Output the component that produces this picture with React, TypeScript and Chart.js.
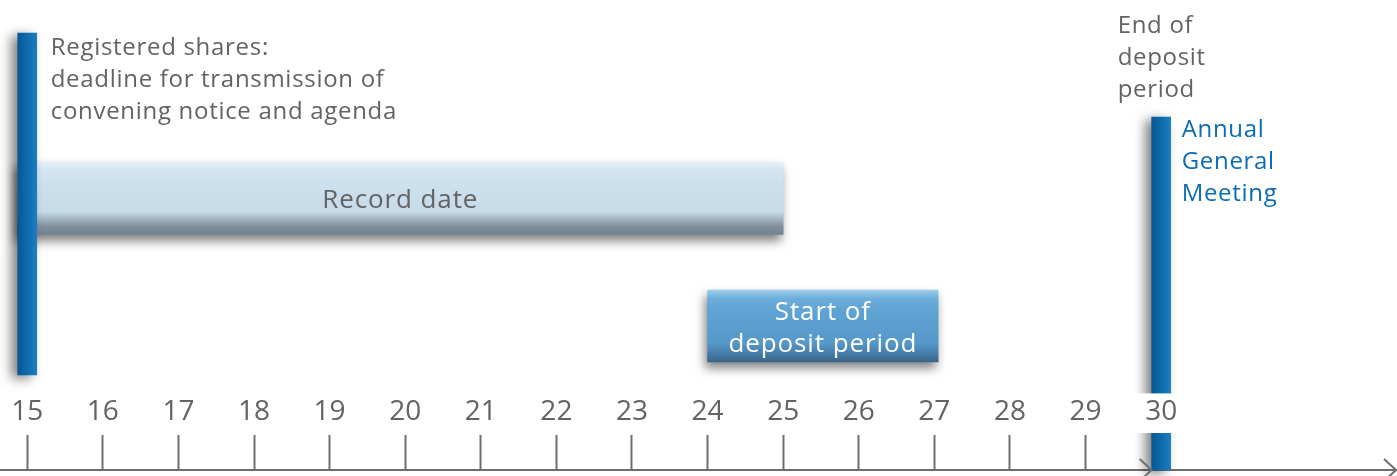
import React, { useEffect, useRef } from 'react';
import { Chart, registerables } from 'chart.js';

Chart.register(...registerables);

// ---- data ----
const DAY_TICKS = [15, 16, 17, 18, 19, 20, 21, 22, 23, 24, 25, 26, 27, 28, 29, 30];
const DAY_MIN = 14.64;
const DAY_MAX = 33.12;

// vertical milestone markers: day and vertical extent (lane units, 0 = time axis)
const MILESTONE_DAYS = [15, 30];
const MILESTONE_SPANS: [number, number][] = [
  [9.5, 43.7],
  [0, 35.3],
];

// horizontal periods: [start day, end day] and lane
const PERIOD_SPANS: [number, number][] = [
  [14.87, 25],
  [24, 27.05],
];
const PERIOD_LANES = [27.15, 14.4];
const PERIOD_LABELS = [['Record date'], ['Start of', 'deposit period']];

const NOTICE_TEXT = ['Registered shares:', 'deadline for transmission of', 'convening notice and agenda'];
const END_DEPOSIT_TEXT = ['End of', 'deposit', 'period'];
const AGM_TEXT = ['Annual', 'General', 'Meeting'];

const LANE_MIN = 0;
const LANE_MAX = 47;

// ---- styles ----
const FONT = '"Open Sans", "Noto Sans", sans-serif';
const GREY = '#636363';
const AXIS_GREY = '#6e6e6e';
const AGM_BLUE = '#0b6cb4';
const MARKER_W = 19;
const PERIOD_H = 72;

function markerFill(c: any) {
  const chart = c.chart;
  if (!chart.chartArea || c.type !== 'data' || !c.parsed) return '#0e69aa';
  const sx = chart.scales.x2;
  const cx = sx.getPixelForValue(c.parsed.x);
  const g = chart.ctx.createLinearGradient(cx - MARKER_W / 2, 0, cx + MARKER_W / 2, 0);
  g.addColorStop(0, '#0a5792');
  g.addColorStop(0.4, '#0d67a9');
  g.addColorStop(1, '#1b7ec1');
  return g;
}

function periodFill(c: any) {
  const chart = c.chart;
  if (!chart.chartArea || c.type !== 'data' || !c.parsed) return '#cde1ef';
  const sy = chart.scales.y;
  const cy = sy.getPixelForValue(c.parsed.y);
  const g = chart.ctx.createLinearGradient(0, cy - PERIOD_H / 2, 0, cy + PERIOD_H / 2);
  if (c.dataIndex === 0) {
    g.addColorStop(0, '#e6f0f8');
    g.addColorStop(0.1, '#d4e6f2');
    g.addColorStop(0.25, '#cde1ef');
    g.addColorStop(0.68, '#c7dae8');
    g.addColorStop(0.78, '#a5b7c5');
    g.addColorStop(0.88, '#82919d');
    g.addColorStop(1, '#728290');
  } else {
    g.addColorStop(0, '#a0cde9');
    g.addColorStop(0.12, '#6caedb');
    g.addColorStop(0.3, '#5ea3d3');
    g.addColorStop(0.74, '#5698c9');
    g.addColorStop(0.86, '#4880ae');
    g.addColorStop(1, '#386588');
  }
  return g;
}

function bounds(el: any) {
  if (el.horizontal) {
    return {
      left: Math.min(el.x, el.base),
      right: Math.max(el.x, el.base),
      top: el.y - el.height / 2,
      bottom: el.y + el.height / 2,
    };
  }
  return {
    left: el.x - el.width / 2,
    right: el.x + el.width / 2,
    top: Math.min(el.y, el.base),
    bottom: Math.max(el.y, el.base),
  };
}

const shadowPlugin = {
  id: 'barShadows',
  beforeDatasetDraw(chart: any, args: any) {
    const ctx = chart.ctx;
    ctx.save();
    if (args.index === 0) {
      ctx.shadowColor = 'rgba(0,0,0,0.5)';
      ctx.shadowBlur = 12;
      ctx.shadowOffsetX = -6;
      ctx.shadowOffsetY = 3;
    } else {
      ctx.shadowColor = 'rgba(0,0,0,0.5)';
      ctx.shadowBlur = 10;
      ctx.shadowOffsetX = -2;
      ctx.shadowOffsetY = 6;
    }
  },
  afterDatasetDraw(chart: any) {
    chart.ctx.restore();
  },
};

function lines(ctx: CanvasRenderingContext2D, text: string[], x: number, y0: number, step: number) {
  text.forEach((t, i) => ctx.fillText(t, x, y0 + i * step));
}

const textPlugin = {
  id: 'timelineText',
  afterDatasetsDraw(chart: any) {
    const ctx: any = chart.ctx;
    const marks = chart.getDatasetMeta(0).data.map(bounds);
    const periods = chart.getDatasetMeta(1).data.map(bounds);
    const axisY = chart.scales.x.top;
    ctx.save();
    ctx.textBaseline = 'alphabetic';

    // side annotations
    ctx.font = `24px ${FONT}`;
    ctx.letterSpacing = '0.7px';
    ctx.fillStyle = GREY;
    ctx.textAlign = 'left';
    lines(ctx, NOTICE_TEXT, marks[0].right + 14, marks[0].top + 22, 32);
    lines(ctx, END_DEPOSIT_TEXT, marks[1].left - 34, marks[1].top - 84, 32);
    ctx.fillStyle = AGM_BLUE;
    lines(ctx, AGM_TEXT, marks[1].right + 11, marks[1].top + 20, 32);

    // period labels
    ctx.textAlign = 'center';
    ctx.font = `26px ${FONT}`;
    ctx.letterSpacing = '0.9px';
    periods.forEach((b: any, i: number) => {
      const lbl = PERIOD_LABELS[i];
      const cx = (b.left + b.right) / 2;
      const cy = (b.top + b.bottom) / 2;
      ctx.fillStyle = i === 0 ? GREY : '#ffffff';
      const y0 = cy + 9.5 - ((lbl.length - 1) * 32) / 2;
      lines(ctx, lbl, cx, y0, 32);
    });
    ctx.letterSpacing = '0px';

    // arrow heads on the time axis
    ctx.strokeStyle = AXIS_GREY;
    ctx.lineWidth = 2;
    const arrow = (tipX: number) => {
      ctx.beginPath();
      ctx.moveTo(tipX - 12, axisY - 11);
      ctx.lineTo(tipX, axisY);
      ctx.lineTo(tipX - 12, axisY + 11);
      ctx.stroke();
    };
    arrow(marks[1].left);
    arrow(chart.chartArea.right - 1);
    ctx.restore();
  },
};

export default function App() {
  const ref = useRef<HTMLCanvasElement | null>(null);

  useEffect(() => {
    document.body.style.margin = '0';
    const canvas = ref.current;
    if (!canvas) return;
    Chart.defaults.font.family = FONT;

    const chart = new Chart(canvas, {
      type: 'bar',
      data: {
        datasets: [
          {
            label: 'Milestones',
            indexAxis: 'x',
            xAxisID: 'x2',
            yAxisID: 'y2',
            grouped: false,
            data: MILESTONE_DAYS.map((d, i) => ({ x: d, y: MILESTONE_SPANS[i] })),
            barThickness: MARKER_W,
            backgroundColor: markerFill,
            borderWidth: 0,
            clip: false,
          } as any,
          {
            label: 'Periods',
            indexAxis: 'y',
            xAxisID: 'x',
            yAxisID: 'y',
            grouped: false,
            data: PERIOD_LANES.map((l, i) => ({ x: PERIOD_SPANS[i], y: l })),
            barThickness: PERIOD_H,
            backgroundColor: periodFill,
            borderWidth: 0,
            clip: false,
          } as any,
        ],
      },
      options: {
        animation: false,
        responsive: false,
        devicePixelRatio: 1,
        events: [],
        layout: { padding: 0 },
        plugins: { legend: { display: false }, tooltip: { enabled: false } },
        scales: {
          x: {
            type: 'linear',
            axis: 'x',
            position: 'bottom',
            min: DAY_MIN,
            max: DAY_MAX,
            offset: false,
            stacked: false,
            afterBuildTicks: (s: any) => {
              s.ticks = DAY_TICKS.map((v) => ({ value: v }));
            },
            afterFit: (s: any) => {
              s.height = 6;
              s.paddingLeft = 0;
              s.paddingRight = 0;
            },
            grid: {
              display: true,
              offset: false,
              drawOnChartArea: false,
              drawTicks: true,
              tickLength: -35,
              tickWidth: 2,
              tickColor: AXIS_GREY,
            },
            border: { display: true, color: AXIS_GREY, width: 2 },
            ticks: {
              z: 1,
              mirror: true,
              padding: 41,
              autoSkip: false,
              maxRotation: 0,
              minRotation: 0,
              color: GREY,
              font: { size: 28, family: FONT },
              callback: (v: any) => String(v),
              showLabelBackdrop: (c: any) => c.tick && c.tick.value === 30,
              backdropColor: '#ffffff',
              backdropPadding: { top: 2, bottom: 4, left: 41, right: 5 },
            },
          } as any,
          x2: { type: 'linear', axis: 'x', display: false, min: DAY_MIN, max: DAY_MAX, offset: false, grid: { offset: false } } as any,
          y: { type: 'linear', axis: 'y', display: false, min: LANE_MIN, max: LANE_MAX, offset: false, grid: { offset: false } } as any,
          y2: { type: 'linear', axis: 'y', display: false, min: LANE_MIN, max: LANE_MAX, offset: false, stacked: false, grid: { offset: false } } as any,
        },
      } as any,
      plugins: [shadowPlugin, textPlugin],
    });
    return () => chart.destroy();
  }, []);

  return (
    <div style={{ position: 'relative', width: 1397, height: 476 }}>
      <canvas ref={ref} width={1397} height={476} style={{ display: 'block' }} />
    </div>
  );
}
